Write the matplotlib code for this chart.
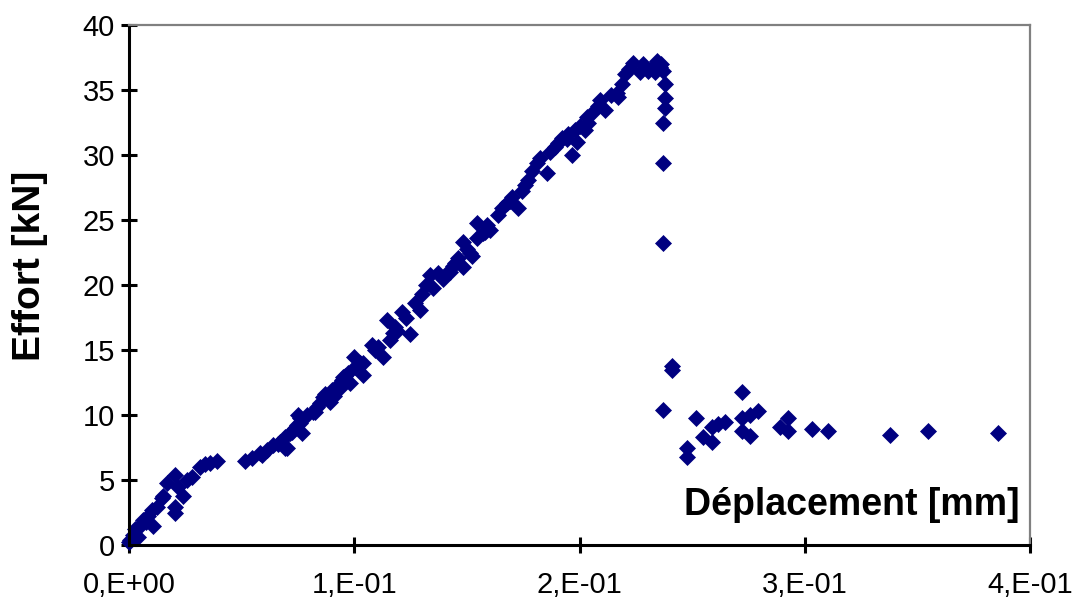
import matplotlib
matplotlib.use('Agg')
import matplotlib.pyplot as plt
from matplotlib.ticker import FuncFormatter

plt.rcParams['font.family'] = ['Liberation Sans', 'DejaVu Sans']

# displacement [mm] and load [kN]
deplacement = [
    0.0000, 0.0004, 0.0018, 0.0027, 0.0040, 0.0049, 0.0062, 0.0075, 0.0084,
    0.0107, 0.0102, 0.0124, 0.0147, 0.0151, 0.0169, 0.0204, 0.0218, 0.0240,
    0.0204, 0.0204, 0.0257, 0.0280, 0.0315, 0.0337, 0.0360, 0.0391,
    0.0515, 0.0546, 0.0582, 0.0590, 0.0613, 0.0639, 0.0661, 0.0670, 0.0701,
    0.0693, 0.0693, 0.0715, 0.0724, 0.0737, 0.0746, 0.0750, 0.0759, 0.0768,
    0.0759, 0.0790, 0.0817, 0.0826, 0.0835, 0.0850, 0.0861, 0.0870, 0.0892,
    0.0901, 0.0910, 0.0923, 0.0937, 0.0946, 0.0950, 0.0960, 0.0972, 0.0981,
    0.0999, 0.1003, 0.1026, 0.1039, 0.1039, 0.1080, 0.1092, 0.1105, 0.1128,
    0.1145, 0.1159, 0.1170, 0.1181, 0.1190, 0.1212, 0.1230, 0.1248, 0.1270,
    0.1292, 0.1300, 0.1320, 0.1336, 0.1350, 0.1370, 0.1394, 0.1412, 0.1425,
    0.1438, 0.1447, 0.1460, 0.1483, 0.1483, 0.1500, 0.1514, 0.1523, 0.1545,
    0.1545, 0.1572, 0.1580, 0.1590, 0.1603, 0.1638, 0.1655, 0.1678, 0.1690,
    0.1700, 0.1727, 0.1745, 0.1758, 0.1771, 0.1790, 0.1811, 0.1825, 0.1856,
    0.1870, 0.1891, 0.1905, 0.1922, 0.1945, 0.1950, 0.1967, 0.1980, 0.1989,
    0.2000, 0.2024, 0.2033, 0.2038, 0.2060, 0.2080, 0.2091, 0.2113, 0.2140,
    0.2166, 0.2171, 0.2190, 0.2202, 0.2220, 0.2238, 0.2269, 0.2280, 0.2304,
    0.2322, 0.2335, 0.2344, 0.2357, 0.2360, 0.2371, 0.2380, 0.2380, 0.2380,
    0.2371, 0.2371, 0.2371, 0.2411, 0.2411, 0.2371,
    0.2517, 0.2477, 0.2477, 0.2548, 0.2588, 0.2588, 0.2615, 0.2646, 0.2721,
    0.2721, 0.2721, 0.2757, 0.2757, 0.2792, 0.2890, 0.2926, 0.2926, 0.3032,
    0.3103, 0.3378, 0.3547, 0.3858,
]
effort = [
    0.2, 0.4, 0.8, 1.2, 0.6, 1.5, 1.9, 1.8, 2.2,
    1.5, 2.7, 2.9, 3.6, 3.8, 4.8, 5.4, 4.5, 3.8,
    2.9, 2.5, 5.0, 5.2, 6.0, 6.2, 6.3, 6.5,
    6.5, 6.7, 7.1, 6.9, 7.3, 7.7, 7.8, 7.9, 7.5,
    8.3, 7.5, 8.6, 8.7, 9.0, 9.2, 10.0, 9.4, 8.6,
    9.8, 10.0, 10.2, 10.2, 10.6, 10.9, 11.4, 11.6, 11.0,
    11.9, 11.5, 12.2, 12.1, 12.7, 12.9, 13.0, 13.2, 12.5,
    14.5, 13.7, 14.0, 13.1, 14.0, 15.4, 15.0, 15.2, 14.5,
    17.3, 15.8, 16.3, 16.8, 16.5, 17.9, 17.5, 16.2, 18.6,
    18.1, 19.3, 20.0, 20.8, 19.8, 20.9, 20.5, 20.9, 21.0,
    21.5, 21.7, 22.1, 21.4, 23.3, 22.8, 22.5, 22.2, 23.6,
    24.8, 24.0, 24.1, 24.6, 24.2, 25.4, 25.9, 26.3, 26.5,
    26.8, 25.9, 27.2, 27.7, 28.1, 28.8, 29.4, 29.8, 28.6,
    30.2, 30.6, 30.9, 31.3, 31.2, 31.6, 30.0, 31.9, 31.0,
    32.2, 31.9, 32.9, 32.5, 33.3, 33.8, 34.2, 33.5, 34.6,
    34.8, 34.5, 35.5, 36.2, 36.6, 37.1, 36.4, 37.0, 36.5,
    36.7, 36.4, 37.2, 36.8, 37.0, 36.5, 35.5, 34.4, 33.6,
    32.5, 29.4, 23.2, 13.8, 13.5, 10.4,
    9.8, 7.5, 6.8, 8.3, 7.9, 9.1, 9.3, 9.5, 11.8,
    9.8, 8.8, 8.4, 10.0, 10.3, 9.1, 9.8, 8.8, 8.9,
    8.8, 8.5, 8.8, 8.6,
]

x_ticks = [0.0, 0.1, 0.2, 0.3, 0.4]
y_ticks = [0, 5, 10, 15, 20, 25, 30, 35, 40]


def sci_fr(v, pos):
    # Excel style "1,E-01"
    if v == 0:
        return '0,E+00'
    s = '%.0E' % v
    mant, exp = s.split('E')
    return '%s,E%s' % (mant, exp)


fig = plt.figure(figsize=(10.8, 6.05), dpi=100)
ax = fig.add_axes([129/1080, 1-545/605, 901/1080, 520/605])

ax.plot(deplacement, effort, linestyle='none', marker='D', markersize=8.2,
        color='#000080', markeredgewidth=0.5, clip_on=False)

ax.set_xlim(0, 0.4)
ax.set_ylim(0, 40)
ax.set_xticks(x_ticks)
ax.set_yticks(y_ticks)
ax.xaxis.set_major_formatter(FuncFormatter(sci_fr))

for side in ['left', 'bottom']:
    ax.spines[side].set_linewidth(2.2)
    ax.spines[side].set_color('black')
for side in ['top', 'right']:
    ax.spines[side].set_linewidth(1.6)
    ax.spines[side].set_color('#808080')
ax.tick_params(axis='both', direction='inout', length=12, width=2.2,
               labelsize=21, colors='black')
ax.tick_params(axis='x', pad=13)
ax.tick_params(axis='y', pad=4)

ax.text(0.989, 0.077, 'Déplacement [mm]', transform=ax.transAxes,
        ha='right', va='center', fontsize=27, fontweight='bold')
fig.text(0.028, 1-266/605, 'Effort [kN]', rotation=90, ha='center',
         va='center', fontsize=28, fontweight='bold')

fig.savefig('out.png', dpi=100)
